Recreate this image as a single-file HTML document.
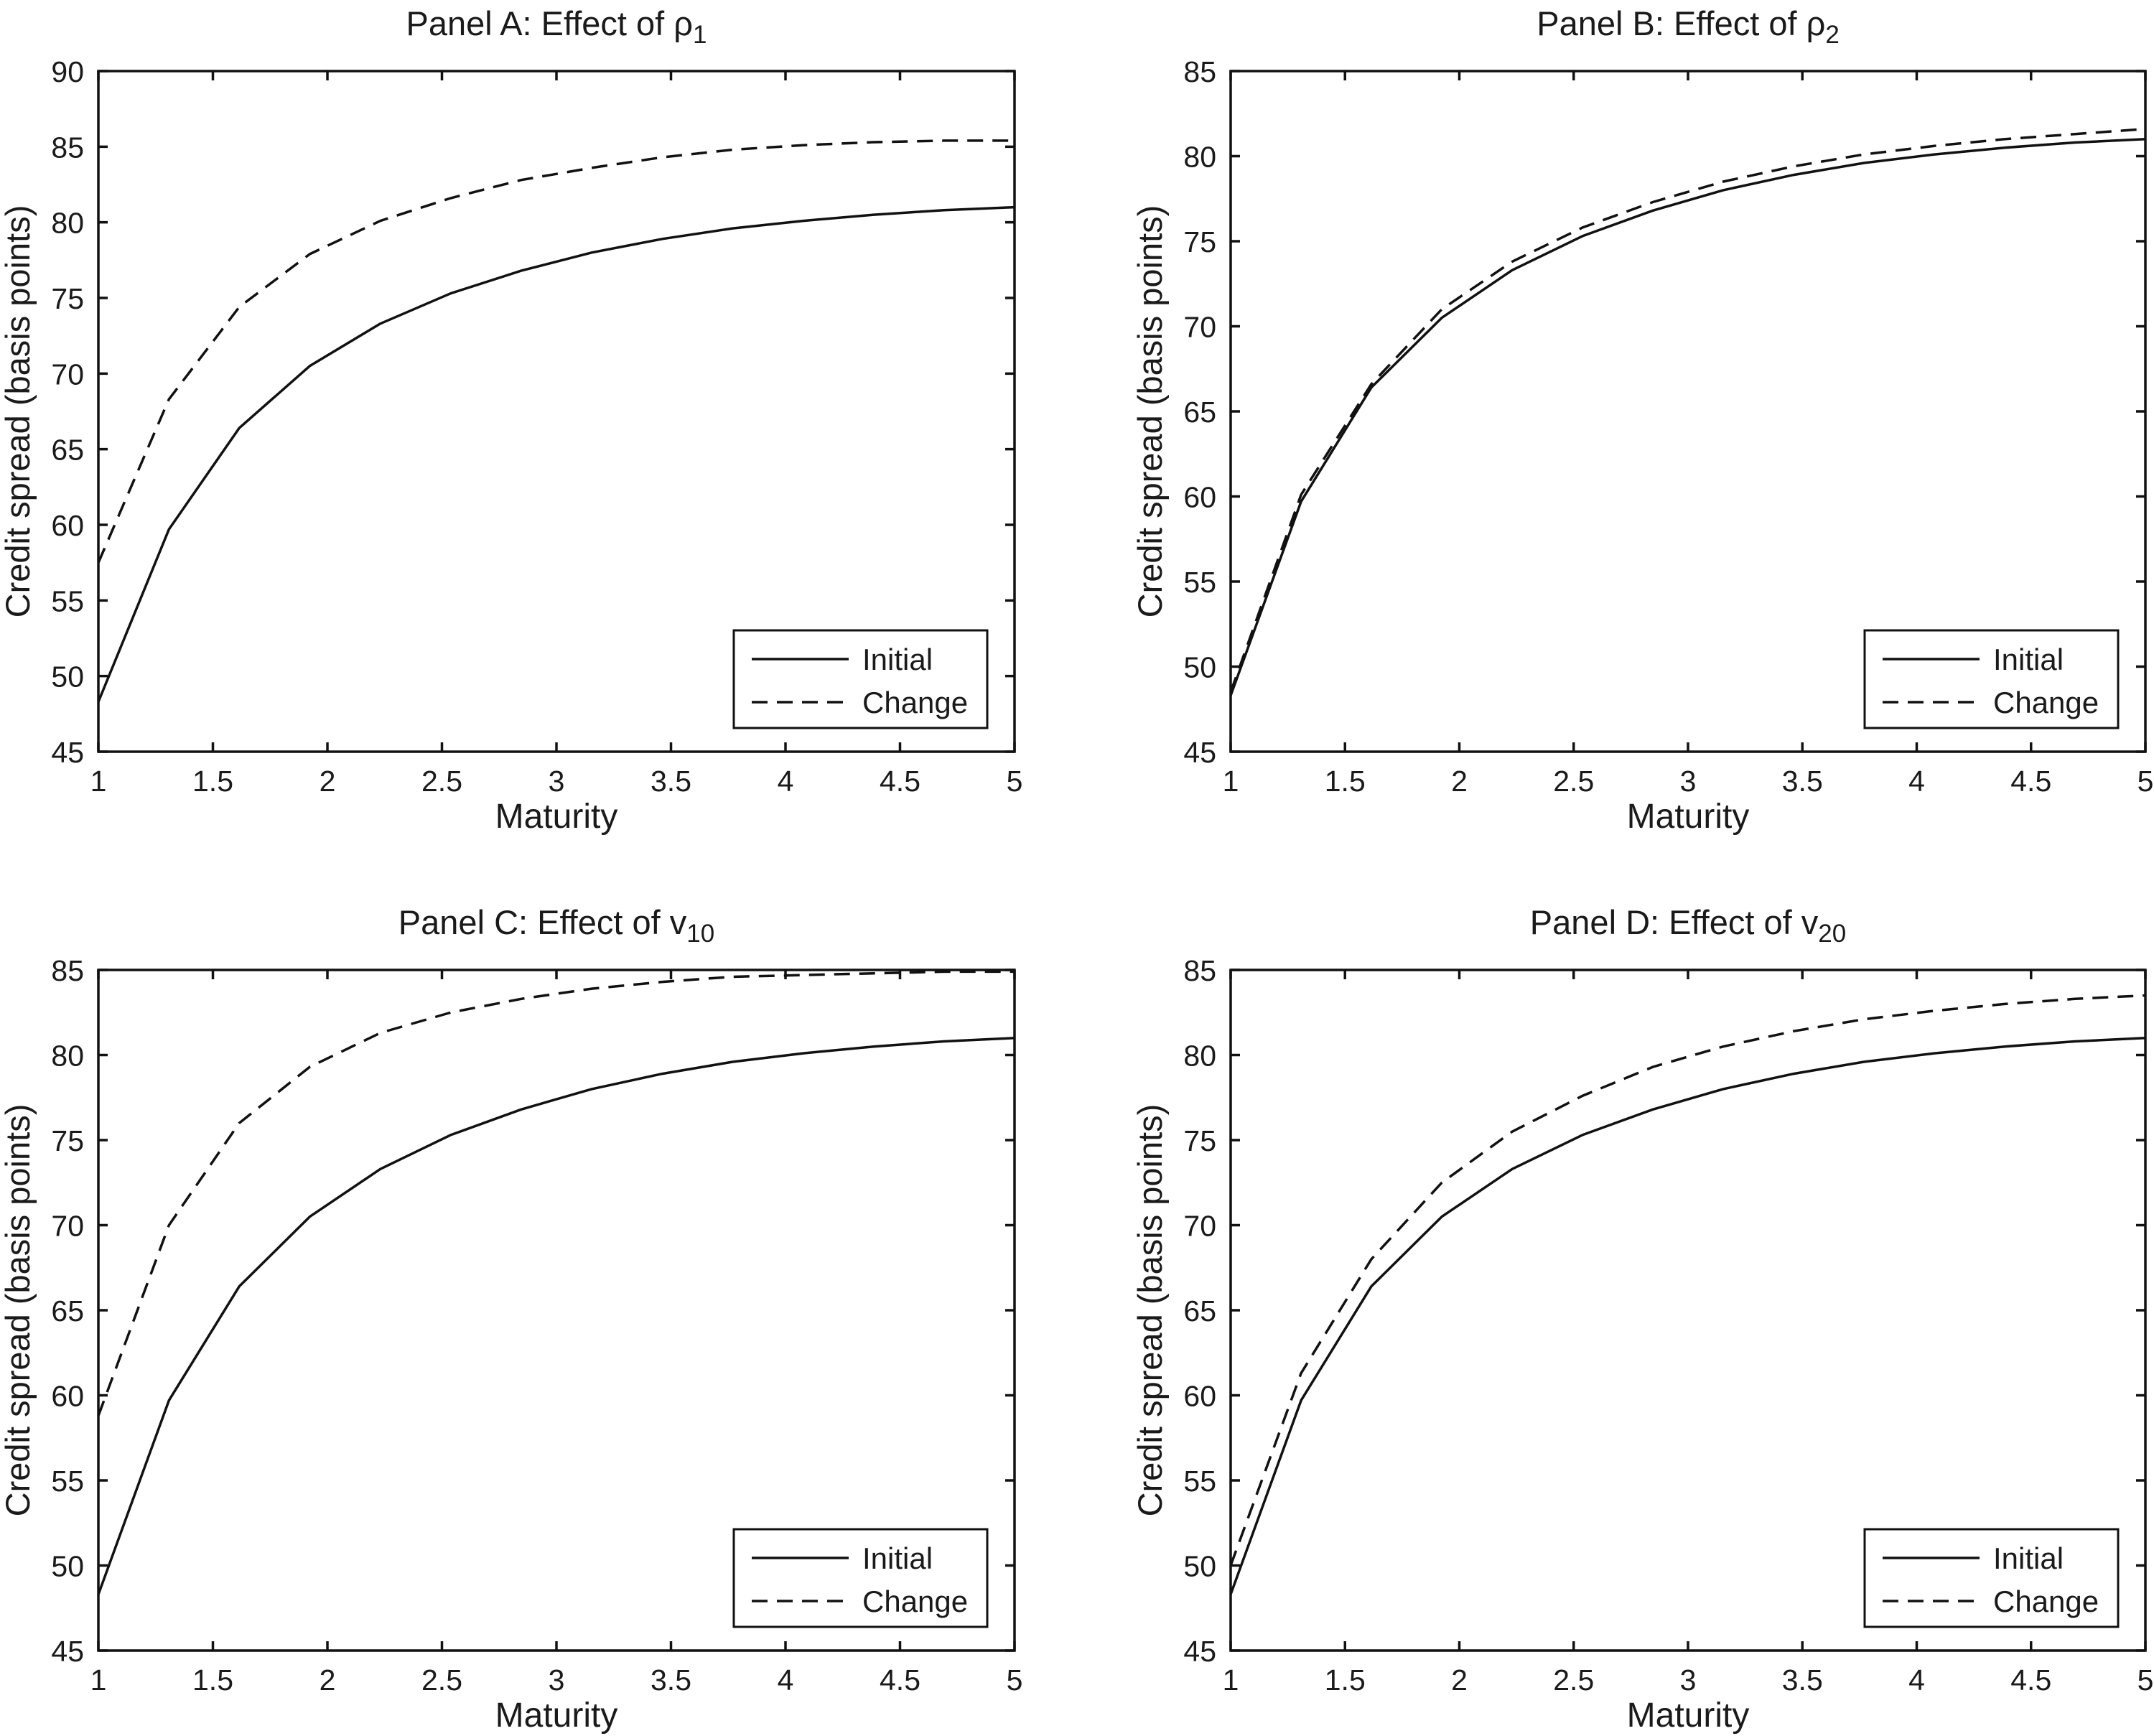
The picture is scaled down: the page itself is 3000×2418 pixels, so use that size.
<!DOCTYPE html>
<html><head><meta charset="utf-8">
<style>
html,body{margin:0;padding:0;background:#fff;}
svg{display:block;}
text{font-family:"Liberation Sans",Arial,sans-serif;fill:#1a1a1a;}
</style></head>
<body>
<svg id="chart" width="3000" height="2418" viewBox="0 0 3000 2418" xmlns="http://www.w3.org/2000/svg"></svg>
<script>
const maturities = [1, 1.308, 1.615, 1.923, 2.231, 2.538, 2.846, 3.154, 3.462, 3.769, 4.077, 4.385, 4.692, 5];
const initialSpread = [48.3, 59.7, 66.4, 70.5, 73.3, 75.3, 76.8, 78.0, 78.9, 79.6, 80.1, 80.5, 80.8, 81.0];
const changeA = [57.5, 68.3, 74.4, 77.9, 80.1, 81.6, 82.8, 83.6, 84.3, 84.8, 85.1, 85.3, 85.4, 85.4];
const changeB = [48.5, 60.1, 66.6, 71.0, 73.8, 75.8, 77.3, 78.5, 79.4, 80.1, 80.6, 81.0, 81.3, 81.6];
const changeC = [58.8, 70.0, 76.0, 79.3, 81.3, 82.5, 83.3, 83.9, 84.3, 84.6, 84.7, 84.8, 84.9, 84.9];
const changeD = [50.0, 61.3, 68.0, 72.5, 75.5, 77.6, 79.3, 80.5, 81.4, 82.1, 82.6, 83.0, 83.3, 83.5];
const xTicks = [1, 1.5, 2, 2.5, 3, 3.5, 4, 4.5, 5];
const xTickLabels = ["1", "1.5", "2", "2.5", "3", "3.5", "4", "4.5", "5"];
const yTicksA = [45, 50, 55, 60, 65, 70, 75, 80, 85, 90];
const yTicksOther = [45, 50, 55, 60, 65, 70, 75, 80, 85];
const panelTitles = ["Panel A: Effect of ", "Panel B: Effect of ", "Panel C: Effect of ", "Panel D: Effect of "];
const panelSymbols = ["ρ", "ρ", "v", "v"];
const panelSubs = ["1", "2", "10", "20"];

const NS = "http://www.w3.org/2000/svg";
const svg = document.getElementById("chart");
function mk(tag, attrs, parent) {
  const e = document.createElementNS(NS, tag);
  for (const k in attrs) e.setAttribute(k, attrs[k]);
  (parent || svg).appendChild(e);
  return e;
}

const panels = [
  {id:"a", L:137, R:1413, T:99, B:1047, yTicks:yTicksA, change:changeA},
  {id:"b", L:1714, R:2988, T:99, B:1047, yTicks:yTicksOther, change:changeB},
  {id:"c", L:137, R:1413, T:1351, B:2299, yTicks:yTicksOther, change:changeC},
  {id:"d", L:1714, R:2988, T:1351, B:2299, yTicks:yTicksOther, change:changeD}
];

panels.forEach((p, idx) => {
  const g = mk("g", {});
  
  
  const ymin = p.yTicks[0], ymax = p.yTicks[p.yTicks.length - 1];
  const xs = v => p.L + (v - 1) / 4 * (p.R - p.L);
  const ys = v => p.B - (v - ymin) / (ymax - ymin) * (p.B - p.T);
  const cx = (p.L + p.R) / 2, cy = (p.T + p.B) / 2;

  const t = mk("text", {x: cx, y: p.T - 50, "text-anchor": "middle", "font-size": 47}, g);
  
  
  t.textContent = panelTitles[idx] + panelSymbols[idx];
  const ts = mk("tspan", {"font-size": 35, dy: 11}, t);
  ts.textContent = panelSubs[idx];

  const pathFor = arr => arr.map((v, i) => (i ? "L" : "M") + xs(maturities[i]).toFixed(1) + " " + ys(v).toFixed(1)).join(" ");
  const s1 = mk("path", {d: pathFor(initialSpread), fill: "none", stroke: "#111", "stroke-width": 3.5, "stroke-linejoin": "round"}, g);
  
  
  const s2 = mk("path", {d: pathFor(p.change), fill: "none", stroke: "#111", "stroke-width": 3.5, "stroke-dasharray": "22 13"}, g);
  
  

  const box = mk("rect", {x: p.L, y: p.T, width: p.R - p.L, height: p.B - p.T, fill: "none", stroke: "#111", "stroke-width": 3.5}, g);
  
  

  xTicks.forEach((v, i) => {
    const x = xs(v);
    const tk = mk("path", {d: `M${x} ${p.B}v-13M${x} ${p.T}v13`, stroke: "#111", "stroke-width": 3.5}, g);
    
    
    const lb = mk("text", {x: x, y: p.B + 55, "text-anchor": "middle", "font-size": 41}, g);
    
    
    lb.textContent = xTickLabels[i];
  });
  p.yTicks.forEach(v => {
    const y = ys(v);
    const tk = mk("path", {d: `M${p.L} ${y}h13M${p.R} ${y}h-13`, stroke: "#111", "stroke-width": 3.5}, g);
    
    
    const lb = mk("text", {x: p.L - 20, y: y + 15, "text-anchor": "end", "font-size": 41}, g);
    
    
    lb.textContent = String(v);
  });

  const xl = mk("text", {x: cx, y: p.B + 106, "text-anchor": "middle", "font-size": 48}, g);
  
  
  xl.textContent = "Maturity";
  const ylx = p.L - 96;
  const yl = mk("text", {x: ylx, y: cy, "text-anchor": "middle", "font-size": 47, transform: `rotate(-90 ${ylx} ${cy})`}, g);
  
  
  yl.textContent = "Credit spread (basis points)";

  const lg = mk("g", {}, g);
  
  
  const lx = p.R - 391, ly = p.B - 169;
  mk("rect", {x: lx, y: ly, width: 353, height: 136, fill: "#fff", stroke: "#111", "stroke-width": 3}, lg);
  const e1 = mk("path", {d: `M${lx + 25} ${ly + 40}h135`, stroke: "#111", "stroke-width": 3.5}, lg);
  
  
  const t1 = mk("text", {x: lx + 179, y: ly + 55, "font-size": 42}, lg);
  t1.textContent = "Initial";
  const e2 = mk("path", {d: `M${lx + 25} ${ly + 100}h135`, stroke: "#111", "stroke-width": 3.5, "stroke-dasharray": "22 13"}, lg);
  
  
  const t2 = mk("text", {x: lx + 179, y: ly + 115, "font-size": 42}, lg);
  t2.textContent = "Change";
});
</script>
</body></html>
